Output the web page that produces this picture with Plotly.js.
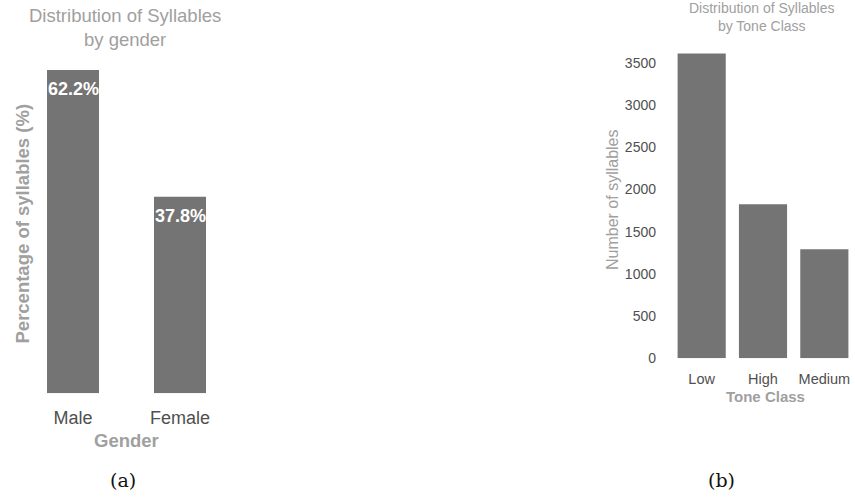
<!DOCTYPE html>
<html><head><meta charset="utf-8">
<script src="https://cdn.plot.ly/plotly-3.0.1.min.js"></script>
<style>html,body{margin:0;padding:0;background:#fff}#chart{width:855px;height:497px}</style>
</head><body><div id="chart"></div>
<script>
const genderCats = ["Male", "Female"];
const genderPct = [62.2, 37.8];
const genderLabels = ["62.2%", "37.8%"];
const toneCats = ["Low", "High", "Medium"];
const toneCounts = [3610, 1824, 1291];
const toneTicks = [0, 500, 1000, 1500, 2000, 2500, 3000, 3500];

const barColor = "#747474";
const F = "Liberation Sans, Arial, sans-serif";
const H = 497;
const fy = px => 1 - px / H;

const data = [
  {type: "bar", x: genderCats, y: genderPct, width: 0.486,
   marker: {color: barColor}, xaxis: "x", yaxis: "y", hoverinfo: "none"},
  {type: "bar", x: toneCats, y: toneCounts, width: 0.785, marker: {color: barColor},
   xaxis: "x2", yaxis: "y2", hoverinfo: "none"}
];

const paperAnn = [
  {text: "Distribution of Syllables<br>by gender", x: 125, y: 27, font: {size: 18.5, color: "#a0a0a0"}},
  {text: "Gender", x: 126.5, y: 440, font: {size: 18.5, color: "#a0a0a0", weight: "bold"}},
  {text: "Percentage of syllables (%)", x: 22, y: 223.5, textangle: -90,
   font: {size: 18.5, color: "#a0a0a0", weight: "bold"}},
  {text: "Distribution of Syllables<br>by Tone Class", x: 762, y: 17.5, font: {size: 14, color: "#a0a0a0"}},
  {text: "Tone Class", x: 765, y: 396.5, font: {size: 15, color: "#a0a0a0", weight: "bold"}},
  {text: "Number of syllables", x: 612, y: 200, textangle: -90,
   font: {size: 16, color: "#a0a0a0"}},
  {text: "(a)", x: 123.5, y: 480, font: {family: "DejaVu Serif, Liberation Serif, serif", size: 19, color: "#111"}},
  {text: "(b)", x: 721, y: 480, font: {family: "DejaVu Serif, Liberation Serif, serif", size: 19, color: "#111"}}
].map(a => Object.assign({}, a, {
  xref: "paper", yref: "paper", showarrow: false,
  x: a.x / 855, y: fy(a.y), xanchor: "center", yanchor: "middle"
}));

const barLabels = genderCats.map((c, i) => ({
  text: genderLabels[i], x: c, y: genderPct[i], xref: "x", yref: "y",
  xanchor: "center", yanchor: "top", yshift: -7, showarrow: false,
  font: {size: 18, color: "#ffffff", weight: "bold"}
}));

const layout = {
  width: 855, height: 497, margin: {l: 0, r: 0, t: 0, b: 0},
  paper_bgcolor: "#fff", plot_bgcolor: "#fff", showlegend: false,
  font: {family: F},
  xaxis: {domain: [19.5/855, 233.5/855], range: [-0.5, 1.5], showgrid: false, zeroline: false,
          showline: false, ticks: "", tickfont: {size: 18, color: "#505050"}, anchor: "y", ticklabelstandoff: 12},
  yaxis: {domain: [fy(393.3), fy(55.4)], range: [0, 65], showgrid: false, zeroline: false,
          showline: false, showticklabels: false, ticks: "", anchor: "x"},
  xaxis2: {domain: [671/855, 1], range: [-0.5, 2.5], showgrid: false, zeroline: false,
           showline: false, ticks: "", tickfont: {size: 14.5, color: "#505050"}, anchor: "y2", ticklabelstandoff: 10},
  yaxis2: {domain: [fy(358.3), fy(37.5)], range: [0, 3800], showgrid: false, zeroline: false,
           showline: false, ticks: "", tickvals: toneTicks, ticktext: toneTicks.map(String),
           tickfont: {size: 14, color: "#505050"}, anchor: "x2", ticklabelstandoff: 14},
  annotations: paperAnn.concat(barLabels)
};

Plotly.newPlot("chart", data, layout, {staticPlot: true, displayModeBar: false});
</script></body></html>
